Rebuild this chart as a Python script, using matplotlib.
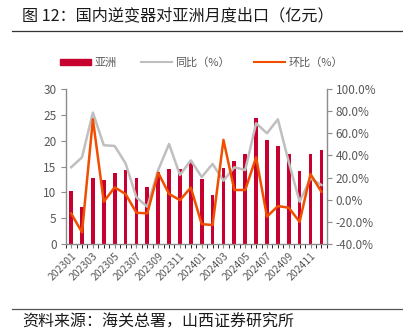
import numpy as np
import matplotlib
matplotlib.use("Agg")
import matplotlib.pyplot as plt
from matplotlib.lines import Line2D
from matplotlib.patches import Patch

plt.rcParams['font.family'] = ['Noto Sans CJK SC', 'DejaVu Sans']

months = ['202301', '202302', '202303', '202304', '202305', '202306',
          '202307', '202308', '202309', '202310', '202311', '202312',
          '202401', '202402', '202403', '202404', '202405', '202406',
          '202407', '202408', '202409', '202410', '202411', '202412']
asia = [10.3, 7.2, 12.7, 12.4, 13.8, 14.4, 12.7, 11.0, 14.0, 14.5, 14.5, 16.1,
        12.5, 9.5, 14.8, 16.1, 17.4, 24.3, 20.1, 19.0, 17.5, 14.1, 17.4, 18.2]
yoy = [29.3, 38.3, 78.6, 49.2, 48.5, 32.9, 2.2, -6.3, 26.8, 50.3, 22.3, 35.5,
       20.5, 32.3, 17.2, 29.3, 26.8, 69.0, 60.0, 72.6, 34.0, -1.8, 19.3, 13.3]
mom = [-12.3, -29.4, 72.6, -1.8, 11.2, 5.2, -11.7, -12.3, 24.4, 5.2, -0.3, 11.0,
       -22.0, -22.8, 54.0, 8.8, 8.8, 38.3, -15.3, -5.7, -7.2, -19.9, 23.2, 7.2]

red = '#C8002F'
gray = '#BFBFBF'
orange = '#F04E00'
tick_col = '#595959'
spine_col = '#8C8C8C'

fig = plt.figure(figsize=(4.03, 3.33), dpi=100)
ax = fig.add_axes([0.163, 0.267, 0.648, 0.466])
x = np.arange(len(months))

ax.bar(x, asia, width=0.34, color=red, zorder=2)
ax.set_xlim(-0.5, len(months) - 0.5)
ax.set_ylim(0, 30)
ax.set_yticks(range(0, 31, 5))

ax2 = ax.twinx()
ax2.plot(x, yoy, color=gray, lw=1.8, zorder=3)
ax2.plot(x, mom, color=orange, lw=1.8, zorder=4)
ax2.set_ylim(-40, 100)
ax2.set_yticks(range(-40, 101, 20))
ax2.set_yticklabels([f'{v:.1f}%' for v in range(-40, 101, 20)])

ax.set_xticks(x[::2])
ax.set_xticklabels(months[::2], rotation=45, ha='right', rotation_mode='anchor')
ax.set_xticks(np.arange(-0.5, len(months), 0.5), minor=True)

for a in (ax, ax2):
    a.spines['top'].set_visible(False)
    for s in a.spines.values():
        s.set_color(spine_col)
        s.set_linewidth(1.0)
    a.tick_params(colors=spine_col, labelcolor=tick_col, labelsize=8.5, length=3.5)
ax.spines['right'].set_visible(False)
ax2.spines['left'].set_visible(False)
ax2.spines['bottom'].set_visible(False)
ax.tick_params(axis='x', which='both', length=3, labelsize=7.5, pad=2)
ax.tick_params(axis='y', pad=3)
ax2.tick_params(axis='y', pad=3)

handles = [Patch(color=red), Line2D([], [], color=gray, lw=1.5),
           Line2D([], [], color=orange, lw=1.5)]
fig.legend(handles, ['亚洲', '同比（%）', '环比（%）'], loc='center',
           bbox_to_anchor=(0.5, 0.813), ncol=3, frameon=False, fontsize=8,
           labelcolor=tick_col, handlelength=2.8, handleheight=0.5,
           columnspacing=2.2, handletextpad=0.3)

fig.text(0.055, 0.953, '图 12：国内逆变器对亚洲月度出口（亿元）', fontsize=11.6,
         color='#1a1a1a', va='center')
fig.add_artist(Line2D([0.03, 1.0], [0.907, 0.907], color='#333333', lw=0.9))
fig.add_artist(Line2D([0.03, 1.0], [0.072, 0.072], color='#555555', lw=0.9))
fig.text(0.055, 0.032, '资料来源：海关总署，山西证券研究所', fontsize=11.5,
         color='#1a1a1a', va='center')

fig.savefig('out.png', dpi=100)
